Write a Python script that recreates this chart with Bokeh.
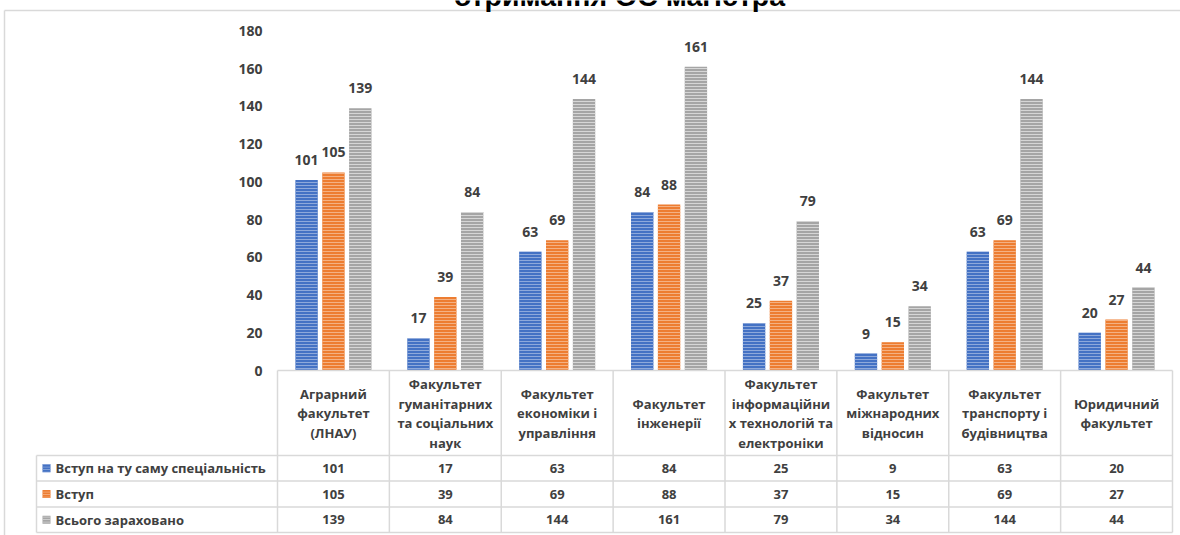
from bokeh.plotting import figure
from bokeh.models import Range1d, FixedTicker, ColumnDataSource, Label
from bokeh.core.properties import value
from bokeh.embed import file_html
from bokeh.resources import INLINE

# ---------------- data ----------------
categories = [
    "Аграрний\nфакультет\n(ЛНАУ)",
    "Факультет\nгуманітарних\nта соціальних\nнаук",
    "Факультет\nекономіки і\nуправління",
    "Факультет\nінженерії",
    "Факультет\nінформаційни\nх технологій та\nелектроніки",
    "Факультет\nміжнародних\nвідносин",
    "Факультет\nтранспорту і\nбудівництва",
    "Юридичний\nфакультет",
]
series_names = ["Вступ на ту саму спеціальність", "Вступ", "Всього зараховано"]
same_specialty = [101, 17, 63, 84, 25, 9, 63, 20]
entry = [105, 39, 69, 88, 37, 15, 69, 27]
total_enrolled = [139, 84, 144, 161, 79, 34, 144, 44]
y_ticks = [0, 20, 40, 60, 80, 100, 120, 140, 160, 180]
title_text = "отримання ОС магістра"

# ---------------- layout / style constants ----------------
W, H = 1180, 535
PLOT_L, PLOT_R = 277, 1172          # pixel extent of the category area
COL = (PLOT_R - PLOT_L) / 8.0       # pixels per category
ZERO_PY = 370                       # pixel row of value 0
PX = (ZERO_PY - 30.5) / 180.0       # pixels per value unit
FONT = "Open Sans"
TXT = "#404040"
GRID = "#d9d9d9"
base_colors = ["#4472C4", "#ED7D31", "#A5A5A5"]
stripe_colors = ["#8EA9DB", "#F4B183", "#D6D6D6"]
offsets = [-0.24, 0.0, 0.24]
series_values = [same_specialty, entry, total_enrolled]


def px_to_x(px):
    return -0.5 + (px - PLOT_L) / COL


def py_to_y(py):
    return (ZERO_PY - py) / PX


p = figure(width=W, height=H,
           x_range=Range1d(px_to_x(0), px_to_x(W)),
           y_range=Range1d(py_to_y(H), py_to_y(0)),
           output_backend="svg", toolbar_location=None, x_axis_location=None,
           min_border_left=0, min_border_right=0, min_border_top=0, min_border_bottom=0)
p.styles = {"position": "absolute", "top": "0px", "left": "0px"}
p.outline_line_color = None
p.xgrid.visible = False
p.ygrid.visible = False

# value axis drawn at the left edge of the category area
p.yaxis.fixed_location = px_to_x(PLOT_L)
p.yaxis.ticker = FixedTicker(ticks=y_ticks)
p.yaxis.axis_line_color = None
p.yaxis.major_tick_line_color = None
p.yaxis.minor_tick_line_color = None
p.yaxis.major_tick_out = 0
p.yaxis.major_tick_in = 0
p.yaxis.major_label_standoff = 15
p.yaxis.major_label_text_font = FONT
p.yaxis.major_label_text_font_style = "bold"
p.yaxis.major_label_text_font_size = "14px"
p.yaxis.major_label_text_color = TXT

# ---------------- bars + labels ----------------
for k in range(3):
    vals = series_values[k]
    src = ColumnDataSource(dict(x=[i + offsets[k] for i in range(len(vals))],
                                top=vals, label=[str(v) for v in vals]))
    p.vbar(x="x", top="top", bottom=0, width=0.2, source=src, fill_color=base_colors[k],
           line_color=None, hatch_pattern="horizontal_line", hatch_color=stripe_colors[k],
           hatch_scale=3, hatch_weight=1)
    p.text(x="x", y="top", text="label", source=src, text_align="center",
           text_baseline="alphabetic", y_offset=-20, text_font=value(FONT),
           text_font_style="bold", text_font_size="14px", text_color=TXT)

# ---------------- outer border & title ----------------
p.segment(x0=[px_to_x(4)], y0=[py_to_y(10)], x1=[px_to_x(W + 5)], y1=[py_to_y(10)],
          line_color=GRID, line_width=1.5)
p.segment(x0=[px_to_x(4)], y0=[py_to_y(10)], x1=[px_to_x(4)], y1=[py_to_y(H + 5)],
          line_color=GRID, line_width=1.5)
p.add_layout(Label(x=px_to_x(619), y=py_to_y(-4.5), text=title_text,
                   text_align="center", text_baseline="alphabetic",
                   text_font="Liberation Sans", text_font_style="bold",
                   text_font_size="28.5px", text_color="black"))

# ---------------- data table ----------------
n = len(categories)
row_py = [455.0, 480.5, 506.5, 532.0]
row_y = [py_to_y(v) for v in row_py]
row_mid = [py_to_y((row_py[i] + row_py[i + 1]) / 2) for i in range(3)]
top_y = py_to_y(ZERO_PY)
leg_left = px_to_x(36)

p.segment(x0=[-0.5 + i for i in range(n + 1)], y0=[top_y] * (n + 1),
          x1=[-0.5 + i for i in range(n + 1)], y1=[row_y[-1]] * (n + 1),
          line_color=GRID, line_width=1.5)
p.segment(x0=[leg_left], y0=[row_y[0]], x1=[leg_left], y1=[row_y[-1]],
          line_color=GRID, line_width=1.5)
p.segment(x0=[-0.5], y0=[top_y], x1=[n - 0.5], y1=[top_y],
          line_color=GRID, line_width=1.5)
p.segment(x0=[leg_left] * 4, y0=row_y, x1=[n - 0.5] * 4, y1=row_y,
          line_color=GRID, line_width=1.5)

# header (category names)
p.text(x=list(range(n)), y=[py_to_y(413)] * n, text=categories, text_align="center",
       text_baseline="middle", text_font=value(FONT), text_font_style="bold",
       text_font_size="13px", text_color=TXT, text_line_height=1.08)

# values
for k in range(3):
    vals = series_values[k]
    p.text(x=list(range(n)), y=[row_mid[k]] * n, text=[str(v) for v in vals],
           text_align="center", text_baseline="middle", text_font=value(FONT),
           text_font_style="bold", text_font_size="13px", text_color=TXT)

# legend keys and series names
p.rect(x=[px_to_x(46)] * 3, y=row_mid, width=8, height=8, width_units="screen",
       height_units="screen", fill_color=base_colors, line_color=None,
       hatch_pattern="horizontal_line", hatch_color=stripe_colors, hatch_scale=2.5,
       hatch_weight=1)
p.text(x=[px_to_x(55)] * 3, y=row_mid, text=series_names, text_align="left",
       text_baseline="middle", text_font=value(FONT), text_font_style="bold",
       text_font_size="13px", text_color=TXT)

open("out.html", "w").write(file_html(p, INLINE))
